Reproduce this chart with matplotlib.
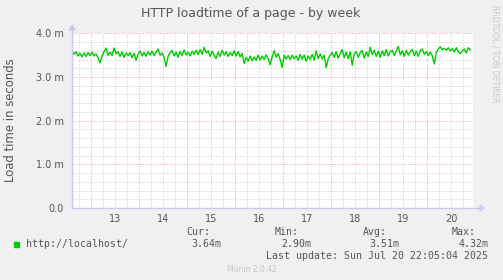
import numpy as np
import matplotlib
matplotlib.use("Agg")
import matplotlib.pyplot as plt

# ---- data (load time in milliseconds, hourly averages) ----
title = "HTTP loadtime of a page - by week"
ylabel = "Load time in seconds"
series_label = "http://localhost/"
day_labels = ["13", "14", "15", "16", "17", "18", "19", "20"]
day_values = [13, 14, 15, 16, 17, 18, 19, 20]
ytick_values = [0.0, 1.0, 2.0, 3.0, 4.0]
ytick_labels = ["0.0", "1.0 m", "2.0 m", "3.0 m", "4.0 m"]
stats_headers = ["Cur:", "Min:", "Avg:", "Max:"]
stats_values = ["3.64m", "2.90m", "3.51m", "4.32m"]
last_update = "Last update: Sun Jul 20 22:05:04 2025"
start_day = 12.604   # start of the series (day-of-month units)
step_hours = 1.0

load_ms = [
    3.60, 3.52, 3.58, 3.48, 3.54, 3.46, 3.55, 3.47, 3.56, 3.49, 3.57, 3.48, 3.53, 3.44, 3.32, 3.47, 3.58, 3.66, 3.50, 3.57,
    3.49, 3.66, 3.53, 3.58, 3.47, 3.57, 3.45, 3.55, 3.49, 3.56, 3.44, 3.54, 3.38, 3.52, 3.59, 3.48, 3.56, 3.47, 3.58, 3.50,
    3.59, 3.49, 3.56, 3.64, 3.50, 3.55, 3.45, 3.24, 3.47, 3.56, 3.61, 3.48, 3.57, 3.45, 3.59, 3.49, 3.62, 3.50, 3.57, 3.48,
    3.59, 3.52, 3.61, 3.51, 3.63, 3.52, 3.68, 3.55, 3.60, 3.47, 3.59, 3.50, 3.42, 3.57, 3.47, 3.61, 3.50, 3.58, 3.47, 3.56,
    3.49, 3.60, 3.48, 3.58, 3.46, 3.54, 3.31, 3.45, 3.36, 3.48, 3.37, 3.46, 3.38, 3.50, 3.39, 3.48, 3.40, 3.51, 3.42, 3.28,
    3.46, 3.60, 3.45, 3.54, 3.40, 3.22, 3.50, 3.41, 3.49, 3.40, 3.50, 3.42, 3.48, 3.38, 3.52, 3.41, 3.50, 3.36, 3.48, 3.40,
    3.52, 3.39, 3.60, 3.42, 3.53, 3.41, 3.50, 3.21, 3.42, 3.50, 3.56, 3.45, 3.58, 3.43, 3.54, 3.63, 3.44, 3.57, 3.42, 3.58,
    3.27, 3.53, 3.58, 3.45, 3.56, 3.61, 3.43, 3.57, 3.47, 3.68, 3.51, 3.61, 3.47, 3.59, 3.45, 3.60, 3.49, 3.63, 3.48, 3.58,
    3.61, 3.49, 3.59, 3.70, 3.51, 3.60, 3.47, 3.61, 3.50, 3.58, 3.63, 3.49, 3.59, 3.47, 3.61, 3.64, 3.52, 3.58, 3.49, 3.57,
    3.48, 3.30, 3.56, 3.64, 3.69, 3.62, 3.66, 3.61, 3.67, 3.60, 3.65, 3.57, 3.67, 3.58, 3.53, 3.60, 3.64, 3.55, 3.67, 3.62,
]

W, H = 503, 280
BG = "#F0F0F0"
TXT = "#555555"
GREEN = "#00CC00"

fig = plt.figure(figsize=(W / 100, H / 100), dpi=100, facecolor=BG)
L, R, T, B = 72, 473, 33.3, 208
ax = fig.add_axes([L / W, 1 - B / H, (R - L) / W, (B - T) / H])
ax.set_facecolor("white")
for s in ax.spines.values():
    s.set_visible(False)

t = start_day + np.arange(len(load_ms)) * step_hours / 24.0
xmin = start_day
xmax = start_day + (R - L) / 48.04
ax.set_xlim(xmin, xmax)
ax.set_ylim(0, 4.0)

# grid
minor_col = "#cfcfcf"
major_col = "#e8a8a8"
dot = (0, (1, 1.5))
d = np.floor(xmin * 4) / 4
while d <= xmax:
    if d > xmin:
        is_major = abs(d - round(d)) < 1e-6
        ax.axvline(d, color=major_col if is_major else minor_col, lw=0.7, ls=dot, zorder=1)
    d += 0.25
for yv in np.arange(0.2, 4.01, 0.2):
    is_major = abs(yv - round(yv)) < 1e-6
    ax.axhline(yv, color=major_col if is_major else minor_col, lw=0.7, ls=dot, zorder=1)

ax.plot(t, load_ms, color=GREEN, lw=1.0, zorder=3)

ax.set_xticks([v + 0.5 for v in day_values])
ax.set_xticklabels(day_labels)
ax.set_yticks(ytick_values)
ax.set_yticklabels(ytick_labels)
ax.tick_params(axis="both", length=0, labelsize=7, colors=TXT, pad=6)
ax.tick_params(axis="x", pad=4)

# axes with arrows
axis_col = "#c8c8f0"
fig.add_artist(plt.Line2D([L / W, 480 / W], [1 - B / H, 1 - B / H], color=axis_col, lw=1))
fig.add_artist(plt.Line2D([L / W, L / W], [1 - B / H, 1 - 28 / H], color=axis_col, lw=1))
fig.patches.append(matplotlib.patches.Polygon(
    [[480 / W, 1 - (B - 3) / H], [484 / W, 1 - B / H], [480 / W, 1 - (B + 3) / H]],
    closed=True, transform=fig.transFigure, color=axis_col))
fig.patches.append(matplotlib.patches.Polygon(
    [[(L - 3) / W, 1 - 30 / H], [L / W, 1 - 25 / H], [(L + 3) / W, 1 - 30 / H]],
    closed=True, transform=fig.transFigure, color=axis_col))

# texts
fig.text(251 / W, 1 - 13 / H, title, ha="center", va="center", fontsize=9.0, color=TXT)
fig.text(10.7 / W, 1 - 120 / H, ylabel, ha="center", va="center", rotation=90, fontsize=8.4, color=TXT)
fig.text(495 / W, 1 - 5 / H, "RRDTOOL / TOBI OETIKER", ha="center", va="top", rotation=270,
         fontsize=5.5, color="#c8c8c8")

mono = "DejaVu Sans Mono"
fs = 7.15
fig.patches.append(matplotlib.patches.Rectangle((14 / W, 1 - 246.7 / H), 5.3 / W, 5 / H,
                                                transform=fig.transFigure, color=GREEN))
fig.text(26 / W, 1 - 244 / H, series_label, ha="left", va="center", family=mono, fontsize=fs, color=TXT)
head_x = [210, 299, 386.7, 475.7]
val_x = [221.7, 311, 399, 488.3]
for hx, vx, h, v in zip(head_x, val_x, stats_headers, stats_values):
    fig.text(hx / W, 1 - 232.3 / H, h, ha="right", va="center", family=mono, fontsize=fs, color=TXT)
    fig.text(vx / W, 1 - 244 / H, v, ha="right", va="center", family=mono, fontsize=fs, color=TXT)
fig.text(488.3 / W, 1 - 256 / H, last_update, ha="right", va="center", family=mono, fontsize=fs, color=TXT)
fig.text(251.5 / W, 1 - 269.3 / H, "Munin 2.0.42", ha="center", va="center", fontsize=5.5, color="#c8c8c8")

fig.savefig("out.png", dpi=100, facecolor=BG)
